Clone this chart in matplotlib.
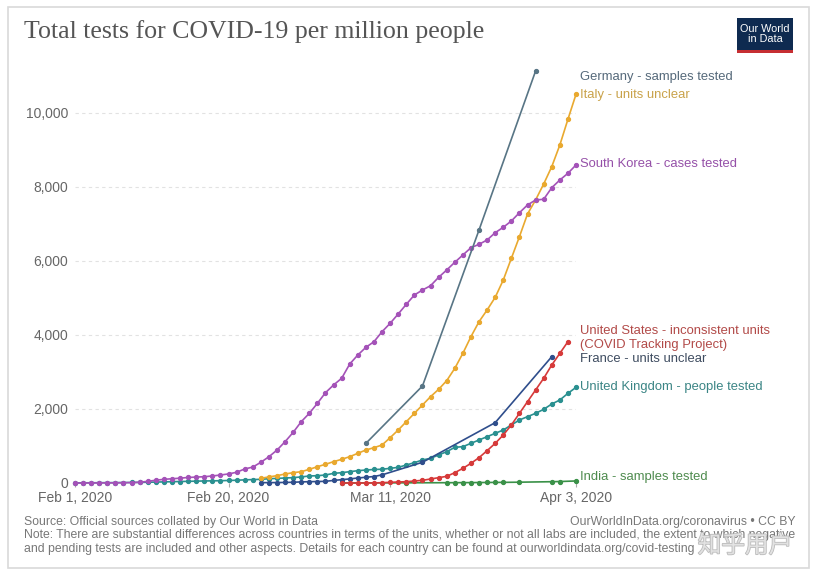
import matplotlib.pyplot as plt
import matplotlib.patheffects as pe
from matplotlib.patches import Rectangle
import pandas as pd

# data (tests per million)
korea_dates = pd.date_range("2020-02-01", "2020-04-03")
korea = [0, 1, 2, 3, 4, 5, 8, 12, 20, 45, 75, 99, 115, 130, 150, 160, 170, 190, 216, 245,
         290, 380, 430, 560, 710, 890, 1117, 1369, 1657, 1884, 2154, 2441, 2649, 2830, 3216,
         3459, 3667, 3819, 4089, 4316, 4568, 4830, 5081, 5216, 5332, 5559, 5757, 5965, 6162,
         6359, 6451, 6568, 6765, 6911, 7081, 7305, 7514, 7649, 7668, 7981, 8189, 8370, 8595]

italy_dates = pd.date_range("2020-02-24", "2020-04-03")
italy = [126, 165, 198, 243, 279, 306, 369, 441, 505, 577, 640, 712, 802, 892, 955, 1027,
         1225, 1432, 1658, 1883, 2108, 2333, 2532, 2766, 3099, 3505, 3955, 4360, 4676, 5018,
         5486, 6072, 6658, 7270, 7649, 8081, 8550, 9135, 9829, 10505]

germany_dates = pd.to_datetime(["2020-03-08", "2020-03-15", "2020-03-22", "2020-03-29"])
germany = [1072, 2622, 6838, 11135]

us_dates = pd.date_range("2020-03-05", "2020-04-02")
us = [0, 0, 0, 0, 2, 9, 18, 27, 36, 54, 72, 108, 144, 180, 279, 396, 532, 685, 874, 1072,
      1297, 1568, 1883, 2198, 2514, 2829, 3189, 3504, 3820]

france_dates = list(pd.date_range("2020-02-24", "2020-03-10")) + list(
    pd.to_datetime(["2020-03-15", "2020-03-24", "2020-03-31"]))
france = [10, 10, 12, 15, 20, 30, 35, 40, 45, 70, 90, 110, 135, 155, 175, 220, 560, 1631, 3414]

uk_dates = pd.date_range("2020-02-01", "2020-04-03")
uk = [3, 5, 6, 8, 9, 10, 12, 14, 17, 20, 25, 30, 35, 40, 45, 50, 55, 58, 62, 68, 75, 85, 92,
      100, 115, 125, 135, 145, 165, 189, 198, 216, 261, 279, 306, 333, 351, 365, 372, 396,
      423, 486, 550, 622, 667, 757, 847, 964, 982, 1072, 1162, 1252, 1342, 1432, 1568, 1703,
      1793, 1883, 1991, 2135, 2243, 2423, 2585]

india_dates = pd.to_datetime(["2020-03-05", "2020-03-13", "2020-03-18", "2020-03-19",
                              "2020-03-20", "2020-03-21", "2020-03-22", "2020-03-23",
                              "2020-03-24", "2020-03-25", "2020-03-27", "2020-03-31",
                              "2020-04-01", "2020-04-03"])
india = [2, 5, 8, 9, 10, 11, 13, 14, 16, 17, 22, 35, 40, 55]

series = [
    ("India - samples tested", india_dates, india, "#3a9148", "#4e8b4e"),
    ("United Kingdom - people tested", uk_dates, uk, "#2a9090", "#3b8585"),
    ("France - units unclear", france_dates, france, "#2f4e8c", "#3e4c60"),
    ("United States - inconsistent units\n(COVID Tracking Project)", us_dates, us, "#d63a3a", "#b24a48"),
    ("Italy - units unclear", italy_dates, italy, "#e9a92f", "#c9a24a"),
    ("South Korea - cases tested", korea_dates, korea, "#a452b8", "#9550a8"),
    ("Germany - samples tested", germany_dates, germany, "#587585", "#55697a"),
]
label_y = [160, 2595, 3351, 3919, 10486, 8622, 10973]

xticks = pd.to_datetime(["2020-02-01", "2020-02-20", "2020-03-11", "2020-04-03"])
xtick_labels = ["Feb 1, 2020", "Feb 20, 2020", "Mar 11, 2020", "Apr 3, 2020"]
yticks = [0, 2000, 4000, 6000, 8000, 10000]

W, H = 817, 576
fig = plt.figure(figsize=(W / 100, H / 100), dpi=100)
fig.patch.set_facecolor("white")
fig.patches.append(Rectangle((8 / W, 8 / H), 801 / W, 561 / H, transform=fig.transFigure,
                             facecolor="white", edgecolor="#d9d9d9", lw=1.2, zorder=-5))

ax = fig.add_axes([75 / W, 93 / H, 501 / W, 412 / H], zorder=2)
ax.set_facecolor("none")
for (name, d, v, c, lc), ly in zip(series, label_y):
    ax.plot(d, v, color=c, lw=1.2, marker="o", ms=2.8, clip_on=False, zorder=3)
    ax.text(pd.Timestamp("2020-04-03") + pd.Timedelta(days=0.45), ly, name, color=lc,
            fontsize=9.4, va="center", ha="left", family="Liberation Sans", linespacing=1.25)

ax.set_xlim(pd.Timestamp("2020-02-01"), pd.Timestamp("2020-04-03"))
ax.set_ylim(0, 11135)
ax.set_xticks(xticks)
ax.set_xticklabels(xtick_labels)
ax.set_yticks(yticks)
ax.set_yticklabels([f"{t:,}" for t in yticks])
for s in ax.spines.values():
    s.set_visible(False)
ax.tick_params(axis="y", length=0, pad=5, labelsize=10, labelcolor="#666666")
ax.tick_params(axis="x", length=3, color="#aaaaaa", pad=3, labelsize=10, labelcolor="#666666")
for lab in ax.get_xticklabels() + ax.get_yticklabels():
    lab.set_family("Liberation Sans")
ax.grid(axis="y", color="#e2e2e2", ls=(0, (3, 3)), lw=0.8)
ax.set_axisbelow(True)

fig.text(24 / W, 1 - 32 / H, "Total tests for COVID-19 per million people", fontsize=18.6,
         family="Liberation Serif", color="#555555", va="center", ha="left")

# logo
fig.patches.append(Rectangle((737 / W, 1 - 52 / H), 56 / W, 34 / H, transform=fig.transFigure,
                             facecolor="#0e2a50", edgecolor="none"))
fig.patches.append(Rectangle((737 / W, 1 - 53 / H), 56 / W, 3 / H, transform=fig.transFigure,
                             facecolor="#c62e32", edgecolor="none"))
fig.text(765 / W, 1 - 34 / H, "Our World\nin Data", fontsize=7.8, color="white", ha="center",
         va="center", family="Liberation Sans", linespacing=1.0)

foot = dict(fontsize=8.8, color="#777777", family="Liberation Sans", va="center")
fig.text(24 / W, 1 - 522 / H, "Source: Official sources collated by Our World in Data", ha="left", **foot)
fig.text(796 / W, 1 - 522 / H, "OurWorldInData.org/coronavirus • CC BY", ha="right", **foot)
fig.text(24 / W, 1 - 535 / H,
         "Note: There are substantial differences across countries in terms of the units, whether or not all labs are included, the extent to which negative",
         ha="left", **foot)
fig.text(24 / W, 1 - 549 / H,
         "and pending tests are included and other aspects. Details for each country can be found at ourworldindata.org/covid-testing",
         ha="left", **foot)
fig.text(745 / W, 1 - 546 / H, "知乎用户", fontsize=17, color="#e6e6e6", alpha=0.9, ha="center",
         va="center", family=["Noto Sans CJK SC", "DejaVu Sans"],
         path_effects=[pe.withStroke(linewidth=1.2, foreground="#b5b5b5")])

fig.savefig("out.png", dpi=100)
